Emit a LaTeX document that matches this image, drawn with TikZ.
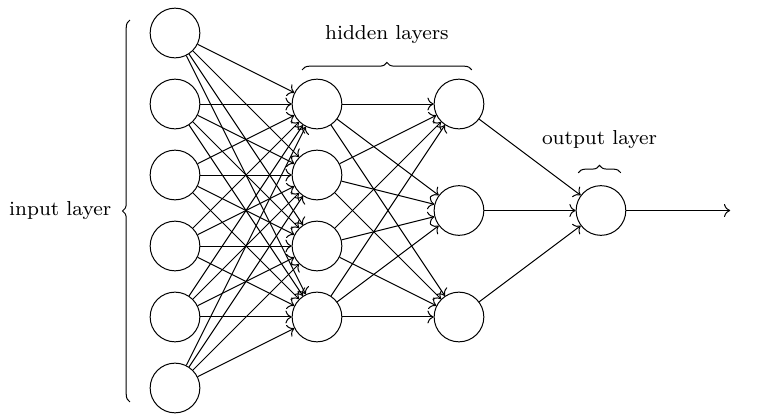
\documentclass[tikz,border=0pt]{standalone}
\usepackage{tikz}
\usetikzlibrary{arrows.meta,decorations.pathreplacing,calc}
\tikzset{
  neuron/.style={draw,circle,minimum size=7mm,inner sep=0pt},
  nflow/.style={->,thin},
  nbrace/.style={decorate,decoration={brace,amplitude=3pt}},
  nlabel/.style={font=\fontsize{8.1}{10}\selectfont},
}

\begin{document}
\begin{tikzpicture}
\useasboundingbox (-2.465,0.465) rectangle (8.423,-5.437);
% input layer: six neurons
\foreach \i in {1,...,6}
  \node[neuron] (in\i) at (0,1-\i) {};
% first hidden layer
\foreach \i in {1,...,4}
  \node[neuron] (ha\i) at (2,-\i) {};
% second hidden layer
\foreach \i/\y in {1/-1,2/-2.5,3/-4}
  \node[neuron] (hb\i) at (4,\y) {};
% output neuron and its free end
\node[neuron] (out) at (6,-2.5) {};
\coordinate (outend) at (7.82,-2.5);
% fully connected layers
\foreach \i in {1,...,6}
  \foreach \j in {1,...,4}
    \draw[nflow] (in\i) -- (ha\j);
\foreach \i in {1,...,4}
  \foreach \j in {1,...,3}
    \draw[nflow] (ha\i) -- (hb\j);
\foreach \i in {1,...,3}
  \draw[nflow] (hb\i) -- (out);
\draw[nflow] (out) -- (outend);
% braces with the layer names
\coordinate (ibb) at (-0.634,-5.197);
\coordinate (ibt) at (-0.634,0.183);
\draw[nbrace] (ibb) -- node[left=4pt,nlabel] {input layer} (ibt);
\coordinate (hbl) at (1.79,-0.52);
\coordinate (hbr) at (4.18,-0.52);
\draw[nbrace] (hbl) -- node[above=7pt,nlabel] {hidden layers} (hbr);
\coordinate (obl) at (5.68,-1.97);
\coordinate (obr) at (6.28,-1.97);
\draw[nbrace] (obl) -- node[above=6pt,nlabel] {output layer} (obr);
\end{tikzpicture}
\end{document}
